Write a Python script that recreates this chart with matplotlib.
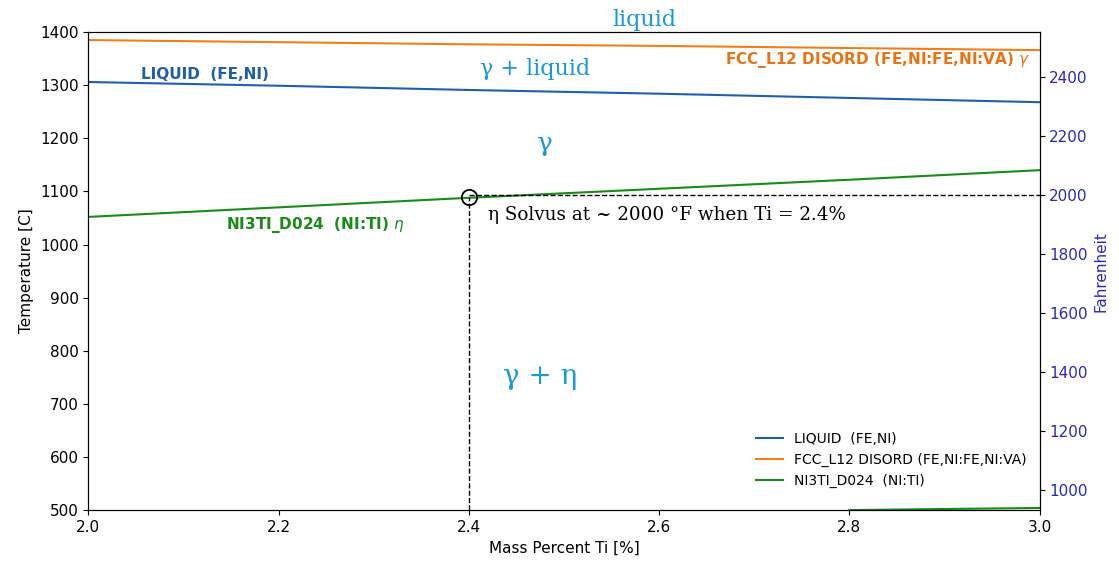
import numpy as np
import matplotlib
matplotlib.use('Agg')
from matplotlib import pyplot as plt

# values
ti = [2.0, 2.2, 2.4, 2.6, 2.8, 3.0]
liquid = [1306, 1299, 1291, 1284, 1276, 1268]
fcc = [1385, 1381, 1377, 1374, 1370, 1366]
ni3ti = [1052, 1070, 1088, 1105, 1122, 1140]
ni3ti_low_x = [2.8, 2.9, 3.0]
ni3ti_low = [500, 502, 504]

solvus_ti = 2.4
solvus_c = 1090
solvus_f = 2000

def c_to_f(c):
    return c * 9 / 5 + 32

fig, ax = plt.subplots(figsize=(11.19, 5.63), dpi=100)
fig.subplots_adjust(left=0.079, right=0.929, top=0.943, bottom=0.094)

ax.plot(ti, liquid, color='#1f5fa5', lw=1.5, label='LIQUID  (FE,NI)')
ax.plot(ti, fcc, color='#f07f1a', lw=1.5, label='FCC_L12 DISORD (FE,NI:FE,NI:VA)')
ax.plot(ti, ni3ti, color='#1a8a1a', lw=1.5, label='NI3TI_D024  (NI:TI)')
ax.plot(ni3ti_low_x, ni3ti_low, color='#1a8a1a', lw=1.5)

ax.set_xlim(2.0, 3.0)
ax.set_ylim(500, 1400)
ax.set_xticks(np.arange(2.0, 3.01, 0.2))
ax.set_xlabel('Mass Percent Ti [%]', fontsize=11)
ax.set_ylabel('Temperature [C]', fontsize=11)
ax.tick_params(labelsize=11)

# solvus marker + guides
ax.plot([solvus_ti, solvus_ti], [500, solvus_c], 'k--', lw=1)
ax.plot([solvus_ti, 3.0], [(solvus_f - 32) * 5 / 9] * 2, 'k--', lw=1)
ax.plot(solvus_ti, solvus_c, 'o', mfc='none', mec='k', ms=11, mew=1.3)

ax.legend(loc='lower right', frameon=False, fontsize=10, bbox_to_anchor=(1.0, 0.02))

# right axis in Fahrenheit
ax2 = ax.twinx()
ax2.set_ylim(c_to_f(500), c_to_f(1400))
ax2.set_yticks(np.arange(1000, 2401, 200))
ax2.set_ylabel('Fahrenheit', color='#2a2ab4', fontsize=11)
ax2.tick_params(labelsize=11, labelcolor='#2a2ab4')

# phase labels
lb = '#1a9bd0'
ax.text(2.585, 1402, 'liquid', color=lb, fontsize=16, family='DejaVu Serif',
        ha='center', va='bottom', clip_on=False)
ax.text(2.47, 1330, 'γ + liquid', color=lb, fontsize=16, family='DejaVu Serif',
        ha='center', va='center')
ax.text(2.48, 1190, 'γ', color=lb, fontsize=19, family='DejaVu Serif',
        ha='center', va='center')
ax.text(2.475, 752, 'γ + η', color=lb, fontsize=20, family='DejaVu Serif',
        ha='center', va='center')

ax.text(2.055, 1320, 'LIQUID  (FE,NI)', color='#1f5fa5', fontsize=11, fontweight='bold',
        va='center')
ax.text(2.99, 1348, r'FCC_L12 DISORD (FE,NI:FE,NI:VA) $\gamma$', color='#e87315',
        fontsize=11, fontweight='bold', ha='right', va='center')
ax.text(2.145, 1037, r'NI3TI_D024  (NI:TI) $\eta$', color='#1a8a1a', fontsize=11,
        fontweight='bold', va='center')
ax.text(2.42, 1055, 'η Solvus at ~ 2000 °F when Ti = 2.4%', color='k',
        fontsize=13.2, family='DejaVu Serif', va='center')

plt.savefig('out.png', dpi=100)
